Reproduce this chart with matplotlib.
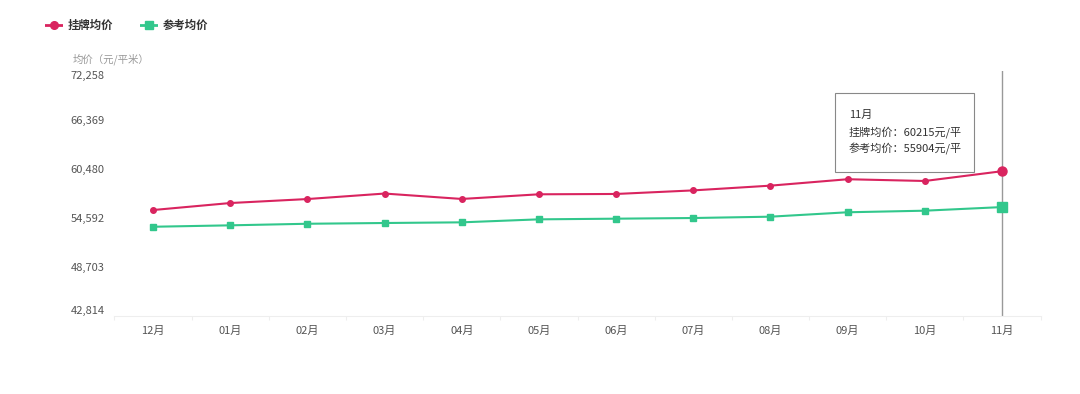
import matplotlib.pyplot as plt
import numpy as np

plt.rcParams['font.family'] = ['Noto Sans CJK SC', 'DejaVu Sans']

# ---------------- Data ----------------
months = ['12月', '01月', '02月', '03月', '04月', '05月',
          '06月', '07月', '08月', '09月', '10月', '11月']
listing_price = [55550, 56390, 56870, 57530, 56880, 57440,
                 57480, 57910, 58480, 59250, 59040, 60215]
reference_price = [53540, 53710, 53900, 53990, 54070, 54430,
                   54510, 54590, 54750, 55280, 55470, 55904]
y_ticks = [42814, 48703, 54592, 60480, 66369, 72258]

RED = '#d9245f'
GREEN = '#32c78c'

fig = plt.figure(figsize=(10.8, 3.94), dpi=100)
W, H = 1080, 394
left, right, top, bottom = 114.5, 1040.6, 71, 316
ax = fig.add_axes([left / W, 1 - bottom / H, (right - left) / W, (bottom - top) / H])

x = np.arange(len(months))
ax.plot(x, listing_price, '-', color=RED, lw=1.5, marker='o', ms=4, zorder=3)
ax.plot(x, reference_price, '-', color=GREEN, lw=1.5, marker='s', ms=4, zorder=3)
# highlighted last point (hovered)
ax.plot(x[-1], listing_price[-1], 'o', color=RED, ms=6.5, zorder=4)
ax.plot(x[-1], reference_price[-1], 's', color=GREEN, ms=6.5, zorder=4)

ax.set_xlim(-0.5, len(months) - 0.5)
ax.set_ylim(y_ticks[0], y_ticks[-1])

ax.set_xticks(x)
ax.set_xticklabels(months)
ax.set_xticks(np.arange(-0.5, len(months), 1), minor=True)
ax.tick_params(axis='x', which='major', length=0, pad=7, labelsize=8, labelcolor='#555555')
ax.tick_params(axis='x', which='minor', length=3, color='#eeeeee', width=0.8)

ax.set_yticks(y_ticks)
ax.set_yticklabels([f'{v:,}' for v in y_ticks])
ax.tick_params(axis='y', length=0, pad=7, labelsize=8, labelcolor='#555555')
ylabels = ax.get_yticklabels()
ylabels[0].set_verticalalignment('bottom')
ylabels[-1].set_verticalalignment('top')

for s in ['top', 'right', 'left']:
    ax.spines[s].set_visible(False)
ax.spines['bottom'].set_color('#eeeeee')
ax.patch.set_alpha(0)

# hover crosshair line
ax.axvline(x[-1], color='#999999', lw=1, zorder=2)

# y axis name
fig.text(73 / W, 1 - 59 / H, '均价（元/平米）', fontsize=7.5, color='#999999', va='center', ha='left')

# legend
def legend_item(x0, color, marker, label):
    lx = fig.add_axes([x0 / W, 1 - 32 / H, 18 / W, 14 / H])
    lx.axis('off')
    lx.set_xlim(0, 1)
    lx.set_ylim(0, 1)
    lx.plot([0, 0.3], [0.5, 0.5], color=color, lw=2)
    lx.plot([0.7, 1.0], [0.5, 0.5], color=color, lw=2)
    lx.plot(0.5, 0.5, marker, color=color, ms=5.5)
    fig.text((x0 + 23) / W, 1 - 25 / H, label, fontsize=8.2, fontweight='bold',
             color='#333333', va='center', ha='left')

legend_item(45, RED, 'o', '挂牌均价')
legend_item(140, GREEN, 's', '参考均价')

# tooltip box
tip = plt.Rectangle((835 / W, 1 - 172 / H), (974 - 835) / W, (172 - 93) / H,
                    transform=fig.transFigure, facecolor='white',
                    edgecolor='#888888', lw=0.8, zorder=5)
fig.patches.append(tip)
tip_lines = ['11月',
             f'挂牌均价：{listing_price[-1]}元/平',
             f'参考均价：{reference_price[-1]}元/平']
for i, t in enumerate(tip_lines):
    fig.text(849 / W, 1 - (115 + 17 * i) / H, t, fontsize=8, color='#333333',
             va='center', ha='left', zorder=6)

fig.savefig('out.png', dpi=100, facecolor='white')
